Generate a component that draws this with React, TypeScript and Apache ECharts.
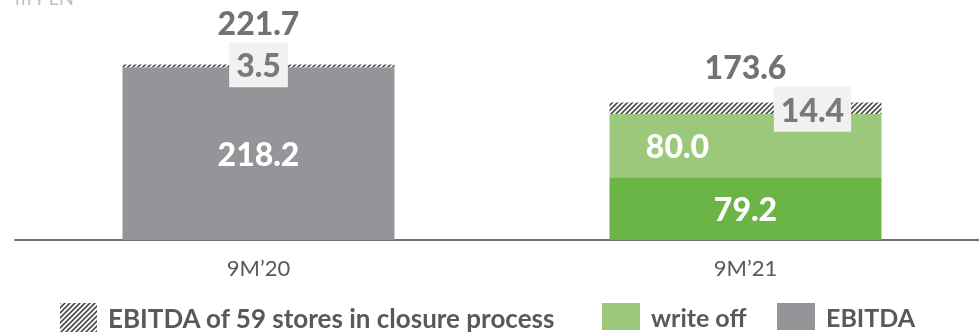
import React, { useEffect, useRef } from "react";
import * as echarts from "echarts";

const categories = ["9M’20", "9M’21"];
const ebitda = [218.2, 79.2];
const writeOff: (number | string)[] = ["-", 80.0];
const closure = [3.5, 14.4];
const totals = [221.7, 173.6];
const unitLabel = "m PLN";

const NAME_CLOSURE = "EBITDA of 59 stores in closure process";
const NAME_WRITEOFF = "write off";
const NAME_EBITDA = "EBITDA";

const FONT = "Lato";

function makeHatch() {
  const c = document.createElement("canvas");
  const s = 5;
  c.width = s;
  c.height = s;
  const ctx = c.getContext("2d")!;
  ctx.fillStyle = "#f3f3f3";
  ctx.fillRect(0, 0, s, s);
  ctx.strokeStyle = "#3c3c3c";
  ctx.lineWidth = 1.5;
  ctx.beginPath();
  ctx.moveTo(0, s);
  ctx.lineTo(s, 0);
  ctx.moveTo(-1, 1);
  ctx.lineTo(1, -1);
  ctx.moveTo(s - 1, s + 1);
  ctx.lineTo(s + 1, s - 1);
  ctx.stroke();
  return c;
}

export default function App() {
  const ref = useRef<HTMLDivElement>(null);
  useEffect(() => {
    if (!ref.current) return;
    const chart = echarts.init(ref.current, undefined, { renderer: "svg" });
    const hatch = { image: makeHatch(), repeat: "repeat" as const };
    const bigLabel = { fontFamily: FONT, fontWeight: 900 as const, fontSize: 32 };
    const legendText = {
      fontFamily: FONT,
      fontWeight: "bold" as const,
      fontSize: 26,
      color: "#595959",
      padding: [0, 0, 0, 6],
    };
    const legendBase = { top: 303, padding: 0, selectedMode: false, textStyle: legendText };
    chart.setOption({
      animation: false,
      grid: { left: 15, width: 974, top: 50, bottom: 93 },
      legend: [
        {
          ...legendBase,
          left: 60,
          itemWidth: 37,
          itemHeight: 29,
          data: [{ name: NAME_CLOSURE, icon: "rect" }],
        },
        {
          ...legendBase,
          left: 602,
          itemWidth: 38,
          itemHeight: 27,
          data: [{ name: NAME_WRITEOFF, icon: "rect" }],
          textStyle: { ...legendText, fontSize: 25 },
        },
        {
          ...legendBase,
          left: 777,
          itemWidth: 38,
          itemHeight: 27,
          data: [{ name: NAME_EBITDA, icon: "rect" }],
          textStyle: { ...legendText, fontSize: 25 },
        },
      ],
      graphic: [
        {
          type: "text",
          left: 15,
          top: -13,
          style: { text: unitLabel, fill: "#c0c0c0", fontSize: 20, fontFamily: FONT },
        },
      ],
      xAxis: {
        type: "category",
        data: categories,
        axisLine: { lineStyle: { color: "#6e6e6e", width: 2 } },
        axisTick: { show: false },
        axisLabel: { color: "#595959", fontSize: 22, fontFamily: FONT, margin: 16 },
      },
      yAxis: { type: "value", min: 0, max: 240, show: false, splitLine: { show: false } },
      series: [
        {
          name: NAME_EBITDA,
          type: "bar",
          stack: "a",
          barWidth: 272,
          itemStyle: { color: "#939598" },
          data: ebitda.map((v, i) => ({
            value: v,
            itemStyle: { color: i === 0 ? "#939598" : "#6ab545" },
          })),
          label: {
            show: true,
            position: "inside",
            color: "#ffffff",
            ...bigLabel,
            formatter: (p: any) => Number(p.value).toFixed(1),
          },
        },
        {
          name: NAME_WRITEOFF,
          type: "bar",
          stack: "a",
          barWidth: 272,
          itemStyle: { color: "#9bc87a" },
          data: writeOff,
          label: {
            show: true,
            position: "inside",
            color: "#ffffff",
            offset: [-68, 0],
            ...bigLabel,
            formatter: (p: any) => Number(p.value).toFixed(1),
          },
        },
        {
          name: NAME_CLOSURE,
          type: "bar",
          stack: "a",
          barWidth: 272,
          itemStyle: { color: hatch },
          data: closure.map((v, i) => ({
            value: v,
            label: { offset: i === 0 ? [0, -1] : [67, 1] },
          })),
          label: {
            show: true,
            position: "inside",
            color: "#7a7a7a",
            backgroundColor: "#f0f1f0",
            padding: [7, 7, 6, 7],
            ...bigLabel,
            formatter: (p: any) => Number(p.value).toFixed(1),
          },
        },
        {
          name: "total",
          type: "scatter",
          symbolSize: 0,
          data: totals.map((v, i) => ({
            value: v,
            label: { offset: i === 0 ? [0, -42] : [0, -36] },
          })),
          label: {
            show: true,
            position: "inside",
            color: "#4f4f4f",
            ...bigLabel,
            formatter: (p: any) => Number(p.value).toFixed(1),
          },
          silent: true,
        },
      ],
    });
    return () => chart.dispose();
  }, []);
  return (
    <div
      ref={ref}
      style={{ position: "fixed", left: 0, top: 0, width: 1000, height: 333 }}
    />
  );
}
